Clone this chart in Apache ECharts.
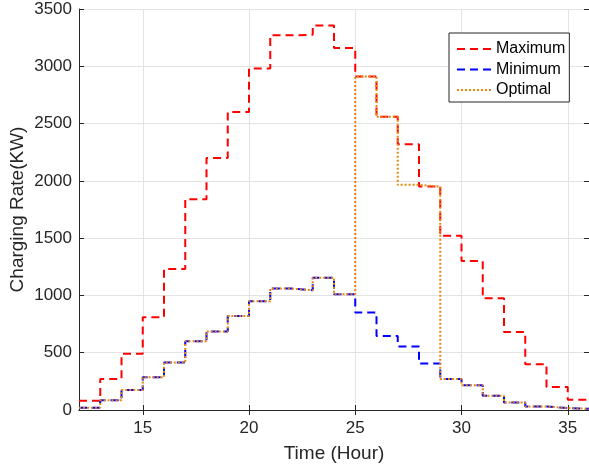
<!DOCTYPE html>
<html>
<head>
<meta charset="utf-8">
<script src="https://cdn.jsdelivr.net/npm/echarts@6/dist/echarts.min.js"></script>
<style>html,body{margin:0;padding:0;background:#fff;}#c{width:589px;height:470px;}</style>
</head>
<body>
<div id="c"></div>
<script>
// Hour boundaries (each value holds for one hour starting at hours[i])
var hours = [12,13,14,15,16,17,18,19,20,21,22,23,24,25,26,27,28,29,30,31,32,33,34,35,36];
var maximum = [80,270,490,810,1230,1840,2200,2600,2980,3270,3275,3355,3160,2910,2560,2320,1950,1520,1300,975,680,400,200,90];
var minimum = [20,85,175,285,415,600,685,820,950,1060,1045,1155,1010,850,645,555,405,270,215,125,65,30,17,10];
var optimal = [20,85,175,285,415,600,685,820,950,1060,1045,1155,1010,2910,2560,1965,1950,270,215,125,65,30,17,10];
var xTicks = [15,20,25,30,35];
var yTicks = [0,500,1000,1500,2000,2500,3000,3500];

function toSteps(vals){
  var d = [];
  for (var i = 0; i < vals.length; i++) d.push([hours[i], vals[i]]);
  d.push([hours[vals.length], vals[vals.length-1]]);
  return d;
}

var FONT = 'Liberation Sans, Arial, Helvetica, sans-serif';
var AX = '#262626';
var chart = echarts.init(document.getElementById('c'), null, {renderer:'canvas'});
var baseX = {
  type:'value', min:12, max:36, interval:5,
  axisLine:{show:true, lineStyle:{color:AX, width:1}},
  axisTick:{show:true, inside:true, length:5, lineStyle:{color:AX}},
  splitLine:{show:false}
};
var option = {
  animation:false,
  backgroundColor:'#fff',
  grid:{left:79, right:0, top:9, bottom:60, containLabel:false, outerBoundsMode:'none'},
  xAxis:[
    Object.assign({}, baseX, {
      position:'bottom',
      name:'Time (Hour)', nameLocation:'middle', nameGap:34, nameMoveOverlap:false,
      nameTextStyle:{fontFamily:FONT, fontSize:19, color:'#262626'},
      axisLabel:{show:true, fontFamily:FONT, fontSize:17, color:'#262626', margin:10,
        customValues: xTicks},
      axisTick:{show:true, inside:true, length:5, lineStyle:{color:AX}, customValues: xTicks},
      splitLine:{show:true, lineStyle:{color:'#e3e3e3', width:1}}
    }),
    Object.assign({}, baseX, {position:'top', axisLabel:{show:false},
      axisTick:{show:true, inside:true, length:5, lineStyle:{color:AX}, customValues: xTicks}})
  ],
  yAxis:[
    {
      type:'value', min:0, max:3500, interval:500, position:'left',
      name:'Charging Rate(KW)', nameLocation:'middle', nameGap:52, nameMoveOverlap:false,
      nameTextStyle:{fontFamily:FONT, fontSize:19, color:'#262626'},
      axisLine:{show:true, lineStyle:{color:AX, width:1}},
      axisTick:{show:true, inside:true, length:5, lineStyle:{color:AX}},
      axisLabel:{fontFamily:FONT, fontSize:17, color:'#262626', margin:7,
        formatter:function(v){ return String(v); }},
      splitLine:{show:true, lineStyle:{color:'#e3e3e3', width:1}}
    },
    {
      type:'value', min:0, max:3500, interval:500, position:'right',
      axisLine:{show:true, lineStyle:{color:AX, width:1}},
      axisTick:{show:true, inside:true, length:5, lineStyle:{color:AX}},
      axisLabel:{show:false}, splitLine:{show:false}
    }
  ],
  legend:{
    orient:'vertical', left:449, top:33,
    backgroundColor:'#fff', borderColor:'#262626', borderWidth:1, borderRadius:0,
    padding:[8,4,4,7], itemWidth:34, itemHeight:14, itemGap:4.5,
    itemStyle:{color:'transparent', borderWidth:0, opacity:0},
    textStyle:{fontFamily:FONT, fontSize:16, color:'#000'},
    data:['Maximum','Minimum','Optimal']
  },
  series:[
    {name:'Maximum', type:'line', step:'end', symbol:'none', data:toSteps(maximum),
      lineStyle:{color:'#ff0000', width:2, type:[8,5]}, itemStyle:{color:'#ff0000'}, z:2},
    {name:'Minimum', type:'line', step:'end', symbol:'none', data:toSteps(minimum),
      lineStyle:{color:'#0000ff', width:2, type:[8,5]}, itemStyle:{color:'#0000ff'}, z:3},
    {name:'Optimal', type:'line', step:'end', symbol:'none', data:toSteps(optimal),
      lineStyle:{color:'#e8870a', width:2, type:[2,2]}, itemStyle:{color:'#e8870a'}, z:4}
  ]
};
chart.setOption(option);
</script>
</body>
</html>
